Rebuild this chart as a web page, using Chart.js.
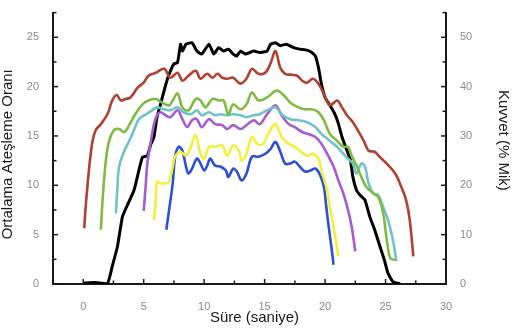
<!DOCTYPE html>
<html>
<head>
<meta charset="utf-8">
<script src="https://cdn.jsdelivr.net/npm/chart.js@4/dist/chart.umd.min.js"></script>
<style>
html,body{margin:0;padding:0;background:#fff;}
#wrap{width:514px;height:328px;}
</style>
</head>
<body>
<div id="wrap"><canvas id="c" width="514" height="328"></canvas></div>
<script>
// ---- data (time in s, firing rate / force) ----
const xTickLabels = [0, 5, 10, 15, 20, 25, 30];
const leftTickLabels = [0, 5, 10, 15, 20, 25];
const rightTickLabels = [0, 10, 20, 30, 40, 50];
const xTitle = 'Süre (saniye)';
const yTitle = 'Ortalama Ateşleme Oranı';
const y2Title = 'Kuvvet (% Mik)';

const forceT = [0,1,2.0,2.4,2.83,3.24,3.65,4.2,4.6,4.9,5.3,5.6,5.85,6.1,6.4,6.8,7.1,7.5,7.8,8.05,8.2,8.5,9.0,9.4,9.8,10.4,10.8,11.2,11.6,12.0,12.4,12.7,13.0,13.4,14.1,14.6,15.2,15.5,15.9,16.3,16.8,17.4,17.9,18.5,18.9,19.2,19.45,19.7,20.0,20.4,20.8,21.1,21.4,21.8,22.1,22.3,22.6,22.9,23.3,23.7,24.1,24.5,24.9,25.2,25.6,26.2];
const forceV = [0.2,0.3,0.1,3.6,7.6,13.6,16,19,23,25.7,26,28.4,29.8,33.8,36.5,40.2,42.5,44.6,44.9,48.6,47.2,48.6,48.9,47.2,46.6,48.6,46.6,47.9,47.2,47.6,46.6,46.2,47.2,46.6,47.2,46.9,47.2,48.6,48.9,48.3,48.6,47.9,47.6,47.4,46.9,46.2,43.9,40.5,37.8,36.2,34.5,32.5,29.8,27.1,25.1,21.7,19.0,18.0,17.0,13.6,11.0,7.9,4.9,2.2,0.5,0];

const redT = [0.08,0.2,0.5,0.77,1.04,1.46,2.0,2.4,2.77,3.1,3.5,3.9,4.5,5.0,5.4,6.0,6.7,7.2,7.8,8.2,8.7,9.3,9.7,10.25,10.7,11.1,11.5,11.9,12.4,13.0,13.5,13.95,14.5,15.05,15.5,15.9,16.3,16.7,17.25,17.7,18.1,18.5,19.0,19.45,19.9,20.4,21.0,21.4,21.8,22.3,22.7,23.2,23.6,24.1,24.5,25.1,25.8,26.3,26.7,27.0,27.3];
const redV = [5.65,7.8,11.9,14.5,15.6,16.2,17.2,18.6,19.15,18.6,18.75,18.9,19.9,20.4,21.1,21.4,21.8,20.9,21.4,20.6,21.1,21.6,20.8,21.3,20.9,21.3,20.9,20.8,20.9,20.3,20.8,21.8,21.3,21.4,22.4,23.6,21.9,21.3,21.2,21.1,20.6,20.4,20.8,20.3,19.25,18.1,18.6,17.9,17.1,16.4,15.6,14.5,13.5,13.4,12.9,12.2,11.2,9.85,8.5,6.5,2.8];

const greenT = [1.46,1.6,1.87,2.14,2.55,2.97,3.4,3.8,4.3,4.9,5.4,6.0,6.5,7.1,7.4,7.8,8.2,8.7,9.3,9.7,10.1,10.7,11.2,11.6,12.0,12.4,13.0,13.5,13.95,14.5,15.2,16.0,16.6,17.1,17.8,18.35,18.9,19.45,19.9,20.4,21.0,21.5,21.9,22.2,22.6,23.0,23.4,23.98,24.4,24.8,25.1,25.4,25.8];
const greenV = [5.5,8.5,12.5,14.5,15.6,15.7,15.4,16.1,17.2,18.2,18.6,18.75,18.4,18.1,18.6,19.3,17.9,17.6,18.75,18.6,17.9,18.75,18.6,18.6,17.2,18.2,17.7,18.2,19.4,18.6,18.9,19.6,19.1,18.4,17.9,17.7,17.7,17.4,16.6,15.2,14.5,13.9,13.9,13.0,12.0,10.85,9.85,9.2,8.8,7.2,4.5,2.6,2.45];

const cyanT = [2.7,2.83,2.97,3.4,3.8,4.2,4.6,5.2,5.7,6.1,6.7,7.2,7.8,8.3,8.9,9.4,9.8,10.4,10.9,11.35,11.9,12.4,13.0,13.5,14.1,14.6,15.2,15.9,16.4,17.1,17.8,18.5,19.2,19.7,20.4,21.0,21.5,21.9,22.3,22.6,23.0,23.3,23.6,23.98,24.4,24.8,25.2,25.6,25.9];
const cyanV = [7.15,9.85,11.9,13.5,14.5,15.6,16.7,17.2,17.6,17.9,17.7,17.6,17.9,17.4,17.2,17.6,17.1,17.4,17.1,17.2,17.1,17.2,17.1,16.9,17.1,17.2,17.6,17.9,17.2,16.7,16.6,16.4,15.9,15.2,14.5,13.9,13.2,12.7,12.2,11.2,12.2,11.9,10.2,9.2,9.0,7.8,6.5,4.5,2.3];

const purpleT = [5.0,5.16,5.3,5.6,5.85,6.1,6.4,6.8,7.2,7.8,8.2,8.6,9.0,9.4,9.8,10.4,10.9,11.5,11.9,12.4,13.0,13.5,14.1,14.6,15.2,15.9,16.4,17.0,17.5,18.1,18.6,19.2,19.7,20.3,20.7,21.1,21.5,21.9,22.2,22.5];
const purpleV = [7.4,9.85,12.2,14.5,16.2,17.1,17.4,17.1,16.9,17.6,16.7,15.9,16.6,16.7,15.9,16.7,16.2,16.1,15.7,16.1,15.7,16.1,16.6,16.2,17.2,18.1,17.1,16.2,15.9,15.4,15.2,14.9,14.2,12.9,11.9,10.5,9.2,7.5,5.8,3.3];

const yellowT = [5.85,6.0,6.1,6.4,6.8,7.1,7.4,7.6,8.05,8.5,8.9,9.3,9.7,10.0,10.4,10.9,11.5,11.9,12.4,12.9,13.1,13.5,13.95,14.4,14.9,15.3,15.9,16.4,17.0,17.5,17.9,18.5,19.0,19.45,19.7,20.1,20.4,20.8,21.1];
const yellowV = [6.5,8.5,10.35,10.2,10.2,10.35,11.9,12.9,13.4,13.0,13.9,15.05,13.2,12.7,13.9,13.9,14.05,13.0,14.05,13.4,12.5,13.2,14.9,14.2,14.2,15.2,16.2,14.9,14.2,13.9,13.5,13.0,13.2,12.7,11.5,9.85,7.8,5.1,2.8];

const blueT = [6.87,7.1,7.4,7.6,7.9,8.2,8.5,8.7,9.0,9.4,9.7,10.0,10.25,10.5,10.9,11.35,11.8,12.0,12.4,12.7,13.1,13.5,13.95,14.5,15.05,15.5,15.9,16.3,16.7,17.1,17.5,17.9,18.35,18.8,19.2,19.6,19.9,20.1,20.3,20.55,20.7];
const blueV = [5.5,7.5,10.2,12.9,13.9,13.5,11.9,11.2,11.7,12.7,12.2,11.5,12.0,12.7,12.0,11.9,11.5,10.85,11.7,11.4,10.5,11.2,12.9,12.9,13.2,13.7,14.4,13.4,12.2,12.2,12.4,11.9,11.4,11.5,11.7,11.0,9.85,7.8,5.8,3.5,1.95];

const pts = (t, v) => t.map((x, i) => ({x, y: v[i]}));

const series = [
  {t: redT, v: redV, color: '#b2402f', axis: 'y', w: 2.6, tension: 0.35},
  {t: greenT, v: greenV, color: '#7fbb40', axis: 'y', w: 2.6, tension: 0.35},
  {t: cyanT, v: cyanV, color: '#6fc3c6', axis: 'y', w: 2.6, tension: 0.35},
  {t: purpleT, v: purpleV, color: '#a45cce', axis: 'y', w: 2.6, tension: 0.35},
  {t: yellowT, v: yellowV, color: '#f2f03c', axis: 'y', w: 2.6, tension: 0.35},
  {t: blueT, v: blueV, color: '#2c4fd6', axis: 'y', w: 2.6, tension: 0.35},
  {t: forceT, v: forceV, color: '#000000', axis: 'y2', w: 3, tension: 0.15}
];

const datasets = series.map(s => ({
  data: pts(s.t, s.v),
  yAxisID: s.axis,
  borderColor: s.color,
  backgroundColor: s.color,
  borderWidth: s.w,
  pointRadius: 0,
  showLine: true,
  tension: s.tension,
  fill: false
}));

const AXIS = '#1a1a1a';
const TICKLBL = '#8a8a8a';
const FONT = 'Liberation Sans, Arial, sans-serif';

// inward tick marks drawn from each scale's own ticks, plus axis titles
const inwardTicks = {
  id: 'inwardTicks',
  afterDraw(chart) {
    const ctx = chart.ctx;
    ctx.save();
    ctx.strokeStyle = AXIS;
    ctx.lineWidth = 1.5;
    const draw = (id, dir, majorEvery) => {
      const sc = chart.scales[id];
      sc.ticks.forEach(tk => {
        const major = Math.abs(tk.value / majorEvery - Math.round(tk.value / majorEvery)) < 1e-6;
        const len = major ? 5 : 3.5;
        const p = sc.getPixelForValue(tk.value);
        ctx.beginPath();
        if (dir === 'up') { ctx.moveTo(p, sc.top); ctx.lineTo(p, sc.top - len); }
        else if (dir === 'right') { ctx.moveTo(sc.right, p); ctx.lineTo(sc.right + len, p); }
        else { ctx.moveTo(sc.left, p); ctx.lineTo(sc.left - len, p); }
        ctx.stroke();
      });
    };
    draw('x', 'up', 5);
    draw('y', 'right', 5);
    draw('y2', 'left', 10);

    // axis titles
    const ca = chart.chartArea;
    ctx.fillStyle = '#1a1a1a';
    ctx.font = '15px ' + FONT;
    ctx.textAlign = 'center';
    ctx.textBaseline = 'middle';
    ctx.fillText(xTitle, (ca.left + ca.right) / 2 + 5, chart.height - 10);
    ctx.save();
    ctx.translate(8, (ca.top + ca.bottom) / 2 + 6);
    ctx.rotate(-Math.PI / 2);
    ctx.fillText(yTitle, 0, 0);
    ctx.restore();
    ctx.save();
    ctx.translate(chart.width - 11, (ca.top + ca.bottom) / 2 - 8);
    ctx.rotate(Math.PI / 2);
    ctx.fillText(y2Title, 0, 0);
    ctx.restore();
    ctx.restore();
  }
};

new Chart(document.getElementById('c'), {
  type: 'scatter',
  data: {datasets},
  plugins: [inwardTicks],
  options: {
    responsive: false,
    animation: false,
    events: [],
    layout: {padding: {top: 11, left: 0, right: 0, bottom: 0}},
    plugins: {legend: {display: false}, tooltip: {enabled: false}},
    scales: {
      x: {
        type: 'linear', min: -2.5, max: 30,
        grid: {display: false},
        border: {display: true, color: AXIS, width: 2},
        ticks: {
          stepSize: 2.5, color: TICKLBL, padding: 8, maxRotation: 0,
          font: {family: FONT, size: 11},
          callback: v => xTickLabels.includes(v) ? String(v) : ''
        },
        afterFit: s => { s.height = 44; }
      },
      y: {
        type: 'linear', position: 'left', min: 0, max: 27.5,
        grid: {display: false},
        border: {display: true, color: AXIS, width: 2},
        ticks: {
          stepSize: 2.5, color: TICKLBL, padding: 6,
          font: {family: FONT, size: 11},
          callback: v => leftTickLabels.includes(v) ? String(v) : ''
        },
        afterFit: s => { s.width = 53; }
      },
      y2: {
        type: 'linear', position: 'right', min: 0, max: 55,
        grid: {display: false},
        border: {display: true, color: AXIS, width: 2},
        ticks: {
          stepSize: 5, color: TICKLBL, padding: 6,
          font: {family: FONT, size: 11},
          callback: v => rightTickLabels.includes(v) ? String(v) : ''
        },
        afterFit: s => { s.width = 68; }
      }
    }
  }
});
</script>
</body>
</html>
